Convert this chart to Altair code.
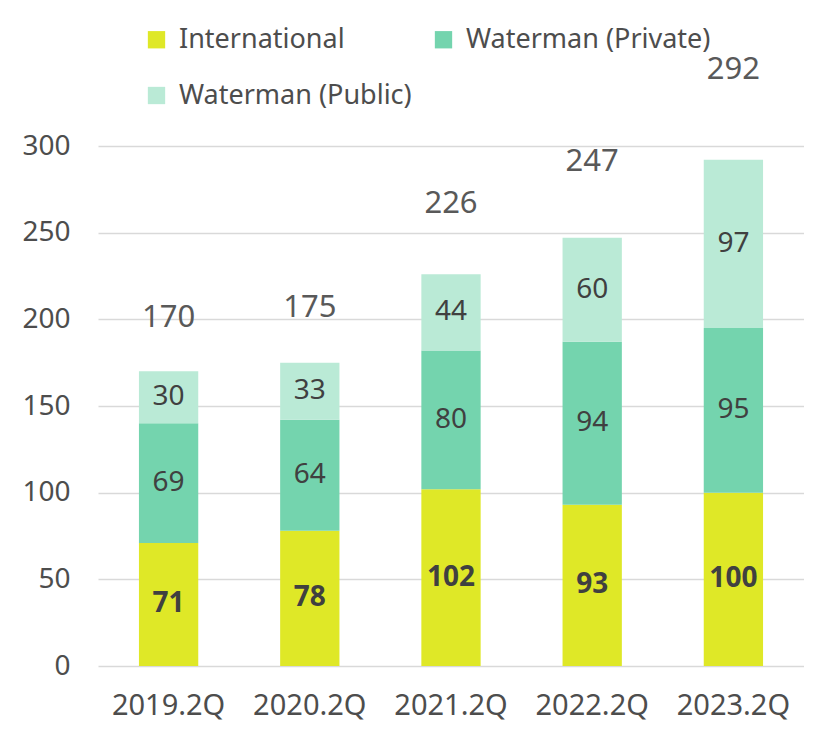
import altair as alt
import pandas as pd

periods = ["2019.2Q", "2020.2Q", "2021.2Q", "2022.2Q", "2023.2Q"]
series = ["International", "Waterman (Private)", "Waterman (Public)"]
international = [71, 78, 102, 93, 100]
private = [69, 64, 80, 94, 95]
public = [30, 33, 44, 60, 97]
totals = [170, 175, 226, 247, 292]
colors = ["#DFE827", "#74D4AE", "#BAEAD6"]

rows = []
for i, p in enumerate(periods):
    for k, (s, vals) in enumerate(zip(series, [international, private, public])):
        rows.append({"period": p, "series": s, "value": vals[i], "order": k})
df = pd.DataFrame(rows)
tot = pd.DataFrame({"period": periods, "total": totals})

FONT = "Noto Sans"

x = alt.X("period:N", sort=periods, title=None,
          scale=alt.Scale(paddingInner=0.58, paddingOuter=0.29),
          axis=alt.Axis(labelAngle=0, labelFontSize=29, labelColor="#4D4D4D",
                        labelFont=FONT, ticks=False, domain=False, labelPadding=25))

bars = alt.Chart(df).mark_bar().encode(
    x=x,
    y=alt.Y("value:Q", stack="zero", title=None,
            scale=alt.Scale(domain=[0, 300]),
            axis=alt.Axis(values=[0, 50, 100, 150, 200, 250, 300], labelFontSize=28,
                          labelColor="#4D4D4D", labelFont=FONT, ticks=False, domain=False,
                          labelPadding=28, gridColor="#D9D9D9", gridWidth=1.5)),
    color=alt.Color("series:N", sort=series,
                    scale=alt.Scale(domain=series, range=colors),
                    legend=alt.Legend(title=None, orient="none", legendX=45, legendY=-120,
                                      direction="horizontal",
                                      columns=2, columnPadding=18, rowPadding=28,
                                      symbolType="square", symbolSize=300,
                                      symbolStrokeWidth=0, labelFontSize=27,
                                      labelFont=FONT, labelColor="#4D4D4D",
                                      labelOffset=9, labelLimit=400)),
    order=alt.Order("order:Q"),
)

seg = alt.Chart(df).transform_stack(
    stack="value", groupby=["period"], as_=["y0", "y1"], sort=[alt.SortField("order")]
).transform_calculate(ymid="(datum.y0 + datum.y1) / 2")

seg_text_normal = seg.transform_filter("datum.order > 0").mark_text(
    fontSize=28, font=FONT, color="#404040"
).encode(x=alt.X("period:N", sort=periods), y="ymid:Q", text="value:Q")

seg_text_bold = seg.transform_filter("datum.order == 0").mark_text(
    fontSize=28, font=FONT, color="#404040", fontWeight="bold"
).encode(x=alt.X("period:N", sort=periods), y="ymid:Q", text="value:Q")

total_text = alt.Chart(tot).transform_calculate(
    ypos="datum.total * 1.17 + 2"
).mark_text(fontSize=31, font=FONT, color="#595959", baseline="middle").encode(
    x=alt.X("period:N", sort=periods), y="ypos:Q", text="total:Q"
)

chart = alt.layer(bars, seg_text_normal, seg_text_bold, total_text).properties(
    width=706, height=520,
    padding={"left": 90, "top": 138, "right": 0, "bottom": 56},
    autosize=alt.AutoSizeParams(type="none"),
).configure_view(stroke=None)

chart.save("out.html", embed_options={"renderer": "svg", "actions": False})
